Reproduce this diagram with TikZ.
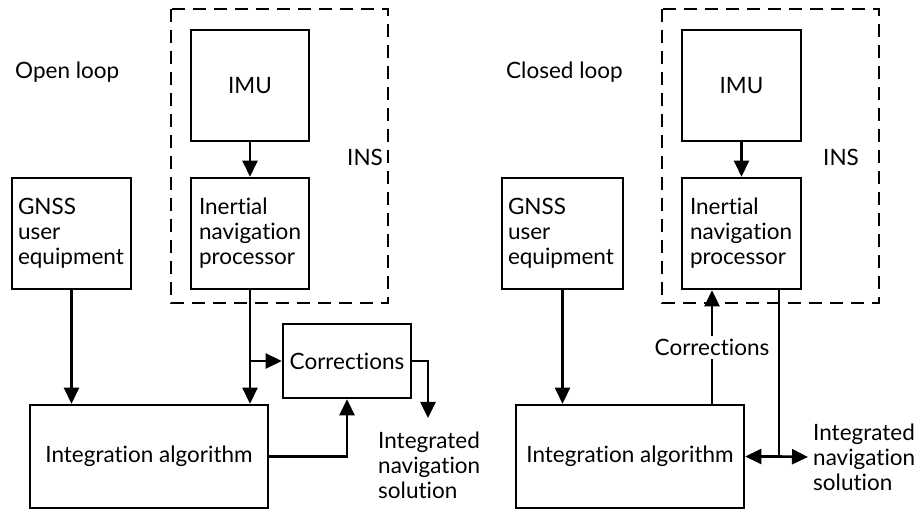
\documentclass[tikz,border=0pt]{standalone}
\usepackage{fontspec}
\setmainfont{Lato}[Ligatures={NoCommon,NoDiscretionary}]
\usetikzlibrary{arrows.meta,calc}
\begin{document}
\begin{tikzpicture}[x=1pt,y=-1pt,
  every node/.style={font=\fontsize{22.5}{25}\selectfont},
  blk/.style={draw, line width=2.6pt, minimum height=111pt},
  arr/.style={line width=2.6pt, -{Triangle[length=16pt,width=15pt]}},
  ln/.style={line width=2.6pt},
  dashbox/.style={line width=2.6pt, dash pattern=on 13pt off 8pt},
  lbl/.style={inner sep=0pt, anchor=west},
  txt/.style={inner sep=0pt, anchor=west, align=left}]
\useasboundingbox (0,0) rectangle (919,510);

% ---------- Open loop ----------
\node[lbl] (openL) at (15,72) {Open loop};
\draw[dashbox] (171,9) rectangle (388,303);
\node[lbl] (insL) at (347,157) {INS};
\node[blk, minimum width=118pt] (imuL) at (250,85.5) {IMU};
\node[blk, inner xsep=8pt, text width=102pt, align=left] (inpL) at (250,233.5) {Inertial\\navigation\\processor};
\node[blk, inner xsep=6pt, text width=107pt, align=left] (gnssL) at (71.5,233.5) {GNSS\\user\\equipment};
\node[blk, minimum width=238pt, minimum height=103pt] (intL) at (149,456.5) {Integration algorithm};
\node[blk, minimum width=128pt, minimum height=74pt] (corrL) at (347,361) {Corrections};
\node[txt] (solL) at (378,465) {Integrated\\navigation\\solution};
\coordinate (brL) at (inpL.south |- corrL.west);
\coordinate (outL) at (428,418);

\draw[arr] (imuL) -- (inpL);
\draw[arr] (gnssL.south) -- (gnssL.south |- intL.north);
\draw[arr] (inpL.south) -- (inpL.south |- intL.north);
\draw[arr] (brL) -- (corrL.west);
\draw[arr] (intL.east) -| (corrL.south);
\draw[arr] (corrL.east) -| (outL);

% ---------- Closed loop ----------
\node[lbl] (closedR) at (506,72) {Closed loop};
\draw[dashbox] (662,9) rectangle (879,303);
\node[lbl] (insR) at (823,157) {INS};
\node[blk, minimum width=119pt] (imuR) at (741.5,85.5) {IMU};
\node[blk, inner xsep=8pt, text width=103pt, align=left] (inpR) at (741.5,233.5) {Inertial\\navigation\\processor};
\node[blk, inner xsep=6pt, text width=109pt, align=left] (gnssR) at (562.5,233.5) {GNSS\\user\\equipment};
\node[blk, minimum width=228pt, minimum height=103pt] (intR) at (630,456.5) {Integration algorithm};
\node[txt, inner xsep=5pt] (solR) at (808,457) {Integrated\\navigation\\solution};
\coordinate (cR) at (712,405);
\coordinate (jR) at (779,456.5);

\draw[arr] (imuR) -- (inpR);
\draw[arr] (gnssR.south) -- (gnssR.south |- intR.north);
\draw[arr] (cR) -- node[fill=white, inner sep=3pt] (corrR) {Corrections} (cR |- inpR.south);
\draw[ln] (jR |- inpR.south) -- (jR);
\draw[arr] (jR) -- (intR.east);
\draw[arr] (jR) -- (solR.west);
\end{tikzpicture}
\end{document}
